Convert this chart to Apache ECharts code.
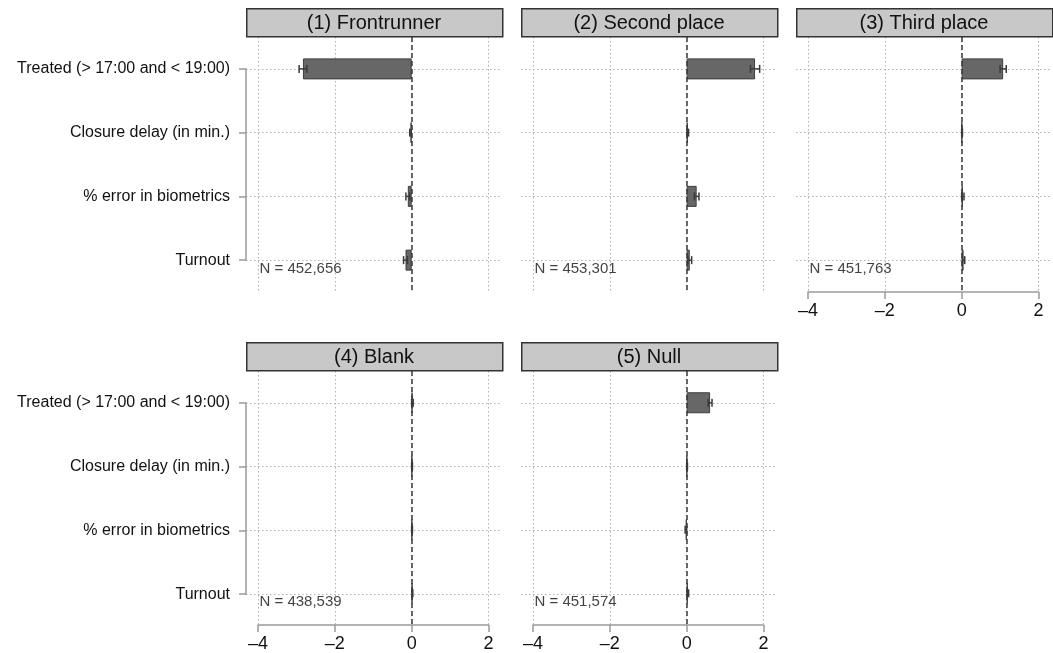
<!DOCTYPE html>
<html>
<head>
<meta charset="utf-8">
<script src="https://cdn.jsdelivr.net/npm/echarts@6/dist/echarts.min.js"></script>
<style>
html,body{margin:0;padding:0;background:#fff;}
#chart{width:1053px;height:653px;}
</style>
</head>
<body>
<div id="chart"></div>
<script>
// ---------- data ----------
const categories = ['Treated (> 17:00 and < 19:00)', 'Closure delay (in min.)', '% error in biometrics', 'Turnout'];
const panelTitles = ['(1) Frontrunner', '(2) Second place', '(3) Third place', '(4) Blank', '(5) Null'];
const nLabels = ['N = 452,656', 'N = 453,301', 'N = 451,763', 'N = 438,539', 'N = 451,574'];
const xTicks = [-4, -2, 0, 2];

const frontrunnerCoef = [-2.83, -0.03, -0.10, -0.16];
const frontrunnerErr  = [0.10, 0.02, 0.05, 0.05];
const secondCoef = [1.78, 0.03, 0.26, 0.08];
const secondErr  = [0.12, 0.02, 0.06, 0.05];
const thirdCoef = [1.08, 0.01, 0.03, 0.05];
const thirdErr  = [0.08, 0.01, 0.03, 0.03];
const blankCoef = [0.02, 0.01, 0.01, 0.02];
const blankErr  = [0.02, 0.01, 0.01, 0.01];
const nullCoef = [0.61, 0.01, -0.02, 0.03];
const nullErr  = [0.05, 0.01, 0.02, 0.02];

const coefs = [frontrunnerCoef, secondCoef, thirdCoef, blankCoef, nullCoef];
const errs = [frontrunnerErr, secondErr, thirdErr, blankErr, nullErr];

// ---------- layout ----------
const FONT = "'Liberation Sans', Arial, sans-serif";
const colX0 = [258, 533, 808];      // pixel of x = -4
const plotW = 230.5;                // -4 .. 2
const rowTop = [37, 371];
const plotH = 255;
const titleTop = [8, 342];
const titleH = 28;
const boxPadL = 12, boxW = 256;
const gridDots = {color: '#b2b2b2', type: [1.5, 2.5], width: 1.1};
const axisGray = {color: '#9a9a9a', width: 1.5};

const grids = [], xAxes = [], yAxes = [], series = [], graphics = [];
const fmt = v => (v < 0 ? '\u2013' + Math.abs(v) : String(v));

panelTitles.forEach((title, i) => {
  const col = i % 3, row = Math.floor(i / 3);
  const x0 = colX0[col], top = rowTop[row];
  const showX = i >= 2;
  const showY = col === 0;
  const gA = 2 * i, gB = 2 * i + 1;

  // Grid A: bars, vertical grid lines, x axis
  grids.push({left: x0, top: top, width: plotW, height: plotH, containLabel: false});
  xAxes.push({
    type: 'value', gridIndex: gA, min: xTicks[0], max: xTicks[xTicks.length - 1], interval: 2,
    axisLine: {show: showX, onZero: false, lineStyle: axisGray},
    axisTick: {show: showX, length: 7, lineStyle: axisGray},
    axisLabel: {show: showX, formatter: fmt, color: '#111', fontSize: 18, fontFamily: FONT, margin: 10},
    splitLine: {show: true, lineStyle: gridDots}
  });
  yAxes.push({
    type: 'category', gridIndex: gA, data: categories, inverse: true, boundaryGap: true,
    axisLine: {show: false}, axisTick: {show: false}, axisLabel: {show: false}, splitLine: {show: false}
  });

  // Grid B: row lines and bracket-style y axis
  grids.push({left: x0 - boxPadL, top: top + plotH / 8, width: boxW, height: plotH * 3 / 4, containLabel: false});
  xAxes.push({type: 'value', gridIndex: gB, min: 0, max: 1, show: false});
  yAxes.push({
    type: 'category', gridIndex: gB, data: categories, inverse: true, boundaryGap: false,
    axisLine: {show: showY, lineStyle: axisGray},
    axisTick: {show: showY, length: 7, lineStyle: axisGray},
    axisLabel: {show: showY, color: '#111', fontSize: 16, fontFamily: FONT, margin: 16},
    splitLine: {show: true, lineStyle: gridDots}
  });

  series.push({
    type: 'bar', xAxisIndex: gA, yAxisIndex: gA, data: coefs[i], barWidth: 21, z: 3,
    itemStyle: {color: '#676767', borderColor: '#3e3e3e', borderWidth: 1},
    markLine: {
      silent: true, symbol: 'none', label: {show: false},
      lineStyle: {color: '#3a3a3a', type: [5, 3], width: 1.5},
      data: [{xAxis: 0}]
    }
  });
  series.push({
    type: 'custom', xAxisIndex: gA, yAxisIndex: gA, z: 4,
    data: coefs[i].map((c, k) => [c - errs[i][k], c + errs[i][k], k]),
    encode: {x: [0, 1], y: 2},
    renderItem: (params, api) => {
      const lo = api.coord([api.value(0), api.value(2)]);
      const hi = api.coord([api.value(1), api.value(2)]);
      const st = {stroke: '#3a3a3a', lineWidth: 1.5};
      return {type: 'group', children: [
        {type: 'line', shape: {x1: lo[0], y1: lo[1], x2: hi[0], y2: hi[1]}, style: st},
        {type: 'line', shape: {x1: lo[0], y1: lo[1] - 4, x2: lo[0], y2: lo[1] + 4}, style: st},
        {type: 'line', shape: {x1: hi[0], y1: hi[1] - 4, x2: hi[0], y2: hi[1] + 4}, style: st}
      ]};
    }
  });
  series.push({
    type: 'scatter', xAxisIndex: gA, yAxisIndex: gA, symbolSize: 1, z: 5,
    itemStyle: {color: 'rgba(0,0,0,0)'},
    data: [[xTicks[0], categories.length - 1]],
    label: {show: true, position: 'right', distance: 1, offset: [0, 9],
      formatter: () => nLabels[i], color: '#111', fontSize: 15, fontFamily: FONT}
  });

  // title strip
  graphics.push({
    type: 'rect', left: x0 - boxPadL, top: titleTop[row], z: 10,
    shape: {width: boxW, height: titleH},
    style: {fill: '#c8c8c8', stroke: '#333', lineWidth: 1.5}
  });
  graphics.push({
    type: 'text', x: x0 - boxPadL + boxW / 2, y: titleTop[row] + titleH / 2 + 1, z: 11,
    style: {text: title, fill: '#111', font: '20px ' + FONT, textAlign: 'center', textVerticalAlign: 'middle'}
  });
});

const chart = echarts.init(document.getElementById('chart'));
chart.setOption({
  animation: false,
  backgroundColor: '#fff',
  grid: grids, xAxis: xAxes, yAxis: yAxes, series: series, graphic: graphics
});
</script>
</body>
</html>
